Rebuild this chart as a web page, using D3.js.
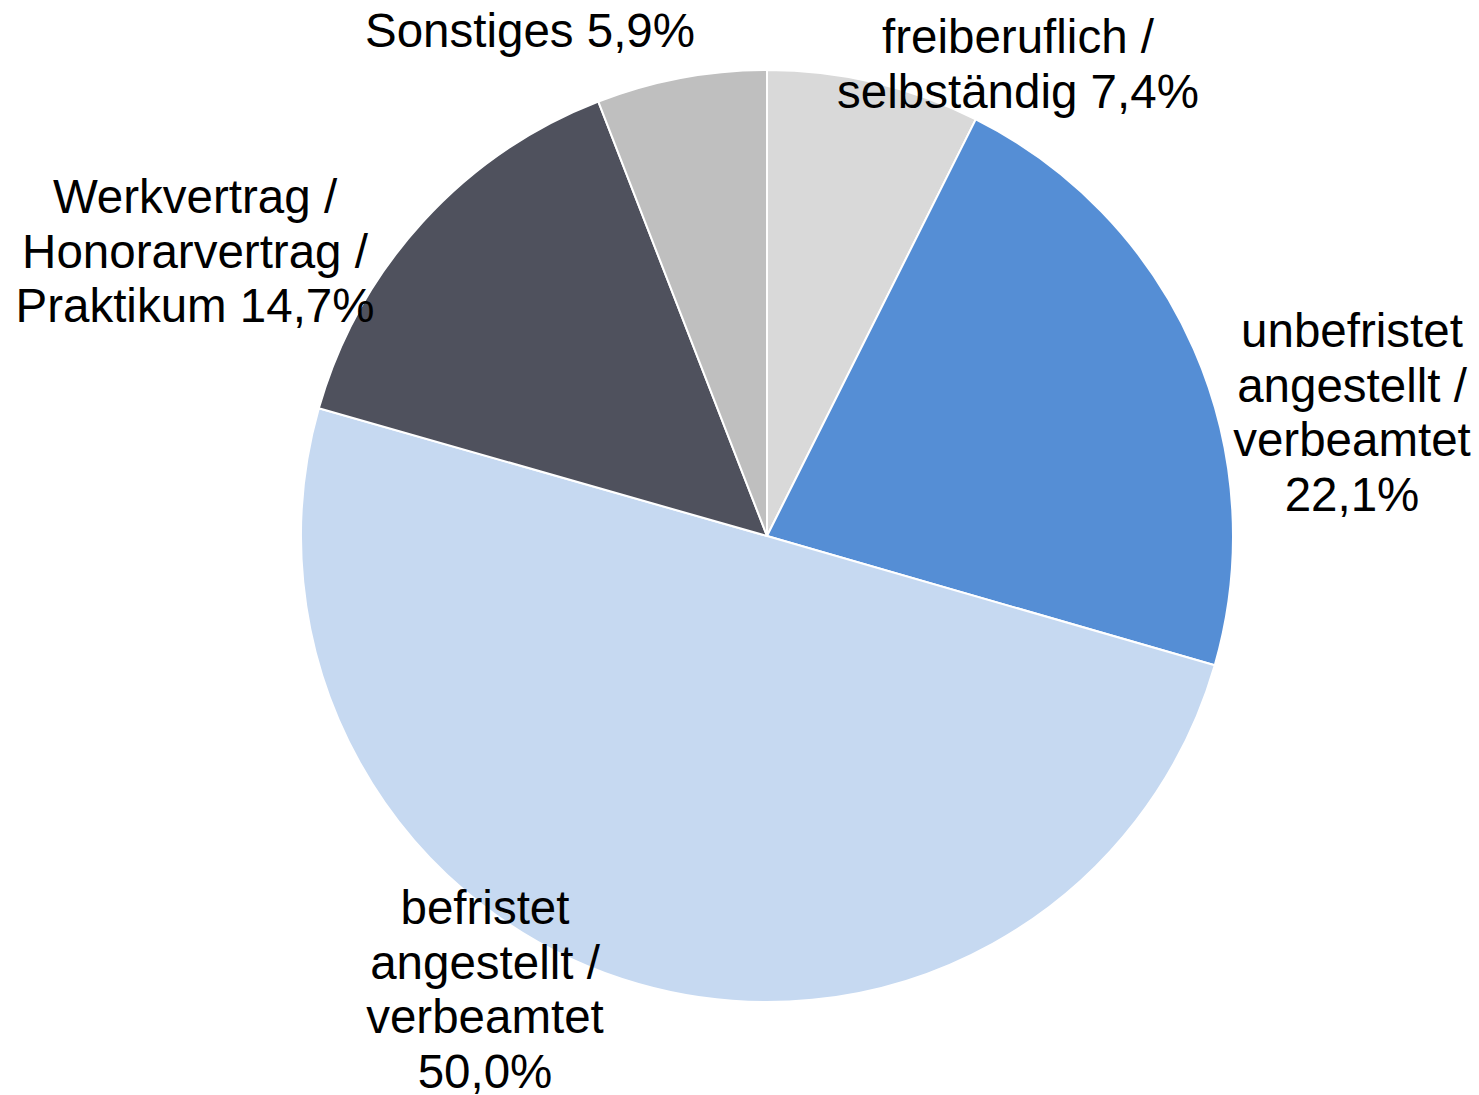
<!DOCTYPE html>
<html><head><meta charset="utf-8">
<script src="https://cdn.jsdelivr.net/npm/d3@7"></script>
<style>html,body{margin:0;padding:0;background:#fff;}</style>
</head><body>
<svg id="chart" width="1479" height="1095"></svg>
<script>
const categories = ["freiberuflich / selbständig", "unbefristet angestellt / verbeamtet", "befristet angestellt / verbeamtet", "Werkvertrag / Honorarvertrag / Praktikum", "Sonstiges"];
const values = [7.4, 22.1, 50.0, 14.7, 5.9];
const labelLines = [
  ["freiberuflich /", "selbständig 7,4%"],
  ["unbefristet", "angestellt /", "verbeamtet", "22,1%"],
  ["befristet", "angestellt /", "verbeamtet", "50,0%"],
  ["Werkvertrag /", "Honorarvertrag /", "Praktikum 14,7%"],
  ["Sonstiges 5,9%"]
];
const colors = ["#d9d9d9", "#558ed5", "#c6d9f1", "#4f515d", "#bfbfbf"];
// layout: label anchor points (center x, first baseline y)
const labelAnchors = [[1018, 53], [1352, 347], [485, 924], [195, 213], [530, 47]];

const svg = d3.select("#chart");
const cx = 767, cy = 536, R = 466;
const g = svg.append("g").attr("transform", `translate(${cx},${cy})`);
const pie = d3.pie().sort(null).value(d => d);
const arc = d3.arc().innerRadius(0).outerRadius(R);
const arcs = pie(values);
g.selectAll("path").data(arcs).join("path")
  .attr("d", arc)
  .attr("fill", (d, i) => colors[i])
  .attr("stroke", "#fff").attr("stroke-width", 2).attr("stroke-linejoin", "round");

const lh = 54.7;
const lbl = svg.append("g").attr("font-family", "Liberation Sans, Arial, sans-serif").attr("font-size", 47.5).attr("fill", "#000").attr("text-anchor", "middle");
labelLines.forEach((lines, i) => {
  const t = lbl.append("text").attr("x", labelAnchors[i][0]).attr("y", labelAnchors[i][1]);
  lines.forEach((s, j) => {
    t.append("tspan").attr("x", labelAnchors[i][0]).attr("dy", j === 0 ? 0 : lh).text(s);
  });
});
</script>
</body></html>
